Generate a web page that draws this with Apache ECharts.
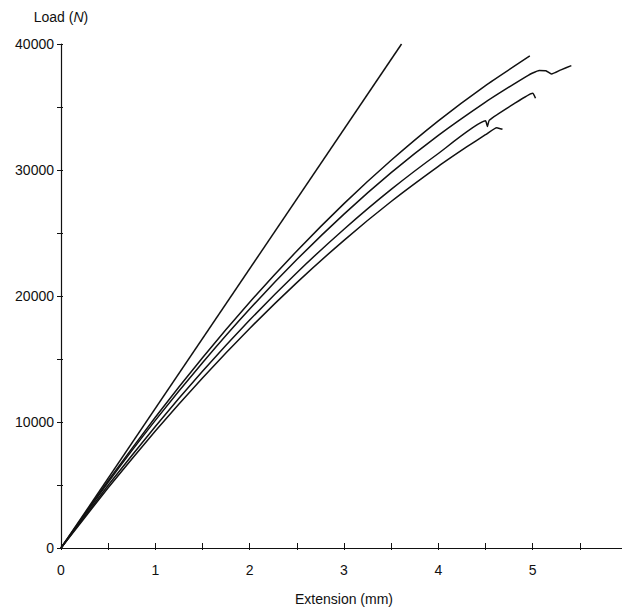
<!DOCTYPE html>
<html>
<head>
<meta charset="utf-8">
<script src="https://cdn.jsdelivr.net/npm/echarts@6/dist/echarts.min.js"></script>
<style>
html,body{margin:0;padding:0;background:#fff;}
#chart{width:622px;height:608px;}
</style>
</head>
<body>
<div id="chart"></div>
<script>
// ---- data ----
const straightX = [0, 3.61];
const straightY = [0, 40000];

const curveAX = [0, 0.5, 1, 1.5, 2, 2.5, 3, 3.5, 4, 4.5, 4.97];
const curveAY = [0, 5350, 10380, 15100, 19500, 23570, 27330, 30770, 33900, 36700, 39050];

const curveBX = [0, 0.5, 1, 1.5, 2, 2.5, 3, 3.5, 4, 4.5, 4.8, 4.93, 5.0, 5.07, 5.14, 5.2, 5.3, 5.41];
const curveBY = [0, 5220, 10130, 14700, 18960, 22890, 26500, 29790, 32750, 35390, 36820, 37410, 37700, 37900, 37880, 37620, 37950, 38280];

const curveCX = [0, 0.5, 1, 1.5, 2, 2.5, 3, 3.5, 4, 4.5, 4.52, 4.54, 4.8, 5.0, 5.03];
const curveCY = [0, 4980, 9650, 14020, 18090, 21850, 25300, 28460, 31310, 33900, 33450, 33950, 35240, 36090, 35690];

const curveDX = [0, 0.5, 1, 1.5, 2, 2.5, 3, 3.5, 4, 4.3, 4.5, 4.62, 4.68];
const curveDY = [0, 4780, 9280, 13490, 17420, 21060, 24420, 27500, 30290, 31830, 32800, 33360, 33230];

const xTickLabels = [0, 1, 2, 3, 4, 5];
const yTickLabels = [0, 10000, 20000, 30000, 40000];
const xAxisTitle = 'Extension (mm)';
const yAxisTitle = ['Load (', 'N', ')'];

function pairs(xs, ys) { return xs.map((x, i) => [x, ys[i]]); }

const FONT = '"Liberation Sans", Arial, sans-serif';
const INK = '#111';

function lineSeries(xs, ys) {
  return {
    type: 'line',
    data: pairs(xs, ys),
    showSymbol: false,
    smooth: 0.15,
    lineStyle: { color: INK, width: 1.5 },
    xAxisIndex: 0,
    yAxisIndex: 0,
    animation: false
  };
}

const chart = echarts.init(document.getElementById('chart'), null, { renderer: 'svg' });
const baseX = {
  type: 'value', min: 0, max: 6, interval: 0.5, position: 'bottom',
  splitLine: { show: false }
};
const baseY = {
  type: 'value', min: 0, max: 40000, interval: 5000, position: 'left',
  splitLine: { show: false }
};
chart.setOption({
  animation: false,
  backgroundColor: '#fff',
  grid: { left: 61, top: 44, width: 566, height: 504, containLabel: false, outerBoundsMode: 'none' },
  xAxis: [
    Object.assign({}, baseX, {
      name: xAxisTitle,
      nameLocation: 'middle',
      nameGap: 44,
      nameTextStyle: { fontFamily: FONT, fontSize: 14, color: INK },
      axisLine: { show: true, lineStyle: { color: INK, width: 1 } },
      axisTick: { show: true, inside: false, length: 2, lineStyle: { color: INK, width: 1 } },
      axisLabel: {
        fontFamily: FONT, fontSize: 14, color: INK, margin: 15,
        formatter: v => xTickLabels.indexOf(v) >= 0 ? String(v) : ''
      }
    }),
    Object.assign({}, baseX, {
      axisLine: { show: false },
      axisTick: { show: true, inside: true, length: 5, lineStyle: { color: INK, width: 1 } },
      axisLabel: { show: false }
    })
  ],
  yAxis: [
    Object.assign({}, baseY, {
      name: '{a|' + yAxisTitle[0] + '}{i|' + yAxisTitle[1] + '}{a|' + yAxisTitle[2] + '}',
      nameLocation: 'end',
      nameGap: 20,
      nameTextStyle: {
        align: 'center',
        rich: {
          a: { fontFamily: FONT, fontSize: 14, color: INK },
          i: { fontFamily: FONT, fontSize: 14, color: INK, fontStyle: 'italic' }
        }
      },
      axisLine: { show: true, lineStyle: { color: INK, width: 1.2 } },
      axisTick: { show: true, inside: false, length: 4, lineStyle: { color: INK, width: 1 } },
      axisLabel: {
        fontFamily: FONT, fontSize: 14, color: INK, margin: 7,
        formatter: v => yTickLabels.indexOf(v) >= 0 ? String(v) : ''
      }
    }),
    Object.assign({}, baseY, {
      axisLine: { show: false },
      axisTick: { show: true, inside: true, length: 2, lineStyle: { color: INK, width: 1 } },
      axisLabel: { show: false }
    })
  ],
  series: [
    lineSeries(straightX, straightY),
    lineSeries(curveAX, curveAY),
    lineSeries(curveBX, curveBY),
    lineSeries(curveCX, curveCY),
    lineSeries(curveDX, curveDY)
  ]
});
</script>
</body>
</html>
